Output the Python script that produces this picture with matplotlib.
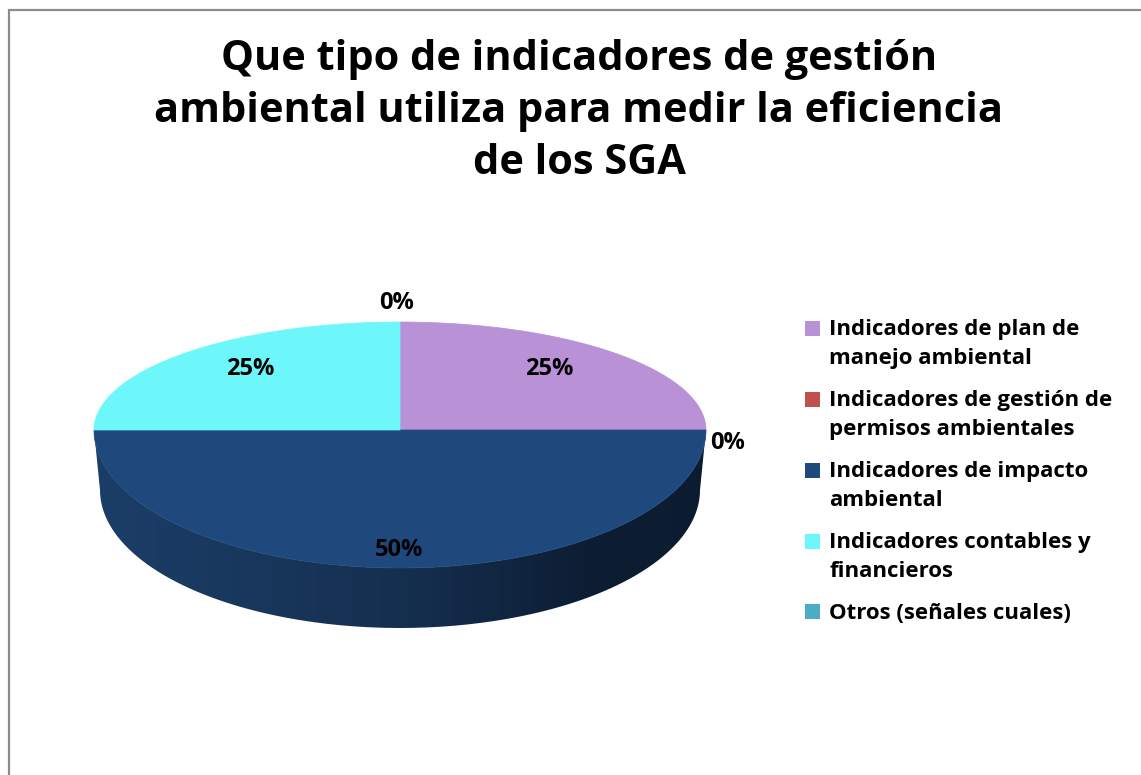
import numpy as np
import matplotlib
matplotlib.use("Agg")
import matplotlib.pyplot as plt
from matplotlib.patches import Rectangle, PathPatch
from matplotlib.path import Path
from matplotlib.legend_handler import HandlerPatch

title_text = "Que tipo de indicadores de gestión\nambiental utiliza para medir la eficiencia\nde los SGA"
categories = ["Indicadores de plan de\nmanejo ambiental",
              "Indicadores de gestión de\npermisos ambientales",
              "Indicadores de impacto\nambiental",
              "Indicadores contables y\nfinancieros",
              "Otros (señales cuales)"]
values = [25, 0, 50, 25, 0]
colors = ["#B991D6", "#C0504D", "#1F497D", "#6EF7FB", "#4BACC6"]
pct_labels = ["25%", "0%", "50%", "25%", "0%"]
pct_x = [549, 728, 399, 250, 397]
pct_y = [369, 443, 550, 369, 303]

W, H = 1141, 775
CX, CY, RX, RY_TOP, RY_BOT = 400, 430, 306, 108, 138
DEPTH, RX_BASE = 60, 300

fig = plt.figure(figsize=(W / 100, H / 100), dpi=100, facecolor="white")
ax = fig.add_axes([0, 0, 1, 1])
ax.set_xlim(0, W)
ax.set_ylim(H, 0)
ax.axis("off")
FONT = "Open Sans"

def rim(theta):
    ry = np.where(np.cos(theta) >= 0, RY_TOP, RY_BOT)
    return CX + RX * np.sin(theta), CY - ry * np.cos(theta)

# frame
ax.plot([9, 9, W], [H, 10, 10], color="#8C8C8C", lw=1.6, solid_joinstyle="miter", zorder=1)

# side wall with horizontal gradient, clipped to the extruded lower rim
t = np.linspace(np.pi / 2, 3 * np.pi / 2, 200)
xt, yt = rim(t)
xb = CX + RX_BASE * np.sin(t[::-1])
yb = CY + DEPTH - RY_BOT * np.cos(t[::-1])
wall = np.column_stack([np.r_[xt, xb], np.r_[yt, yb]])
clip = PathPatch(Path(np.vstack([wall, wall[:1]])), transform=ax.transData, fc="none", ec="none")
ax.add_patch(clip)
stops = np.array([[27, 62, 104], [24, 54, 90], [20, 45, 76], [13, 30, 52], [12, 28, 48]]) / 255
pos = np.array([0, .3, .55, .8, 1])
grad = np.stack([np.interp(np.linspace(0, 1, 256), pos, stops[:, i]) for i in range(3)], -1)[None]
im = ax.imshow(grad, extent=[CX - RX, CX + RX, 640, 420], aspect="auto", zorder=2)
im.set_clip_path(clip)
ax.set_xlim(0, W)
ax.set_ylim(H, 0)

# top face from the values
edges = 2 * np.pi * np.r_[0, np.cumsum(values)] / np.sum(values)
for a, b, c in zip(edges[:-1], edges[1:], colors):
    if b > a:
        th = np.linspace(a, b, 200)
        x, y = rim(th)
        ax.fill(np.r_[CX, x], np.r_[CY, y], color=c, lw=0.5, zorder=3)

for s, x, y in zip(pct_labels, pct_x, pct_y):
    ax.text(x, y, s, ha="center", va="center", fontsize=17, fontweight="bold",
            family=FONT, color="black", zorder=5)

ax.text(579, 111.5, title_text, ha="center", va="center", fontsize=29.9, fontweight="bold",
        family=FONT, color="black", linespacing=1.34, zorder=5)


class FirstLineHandler(HandlerPatch):
    """Puts the legend swatch beside the first line of a two-line label."""
    def create_artists(self, legend, orig_handle, xdescent, ydescent, width, height, fontsize, trans):
        shift = 11.2 if orig_handle.get_label() == "two" else 0
        p = Rectangle((-xdescent, -ydescent + shift), width, height,
                      fc=orig_handle.get_facecolor(), ec="none", transform=trans)
        return [p]


handles = [Rectangle((0, 0), 1, 1, fc=c, ec="none", label="two" if "\n" in n else "one")
           for c, n in zip(colors, categories)]
leg = ax.legend(handles, categories, loc="upper left", bbox_to_anchor=(805 / W, 1 - 319 / H),
                frameon=False, borderpad=0, borderaxespad=0, handlelength=0.68, handleheight=0.68,
                handletextpad=0.42, labelspacing=0.97, alignment="left",
                handler_map={Rectangle: FirstLineHandler()},
                prop={"family": FONT, "weight": "bold", "size": 16})
for txt in leg.get_texts():
    txt.set_linespacing(1.47)
fig.savefig("out.png", dpi=100)
